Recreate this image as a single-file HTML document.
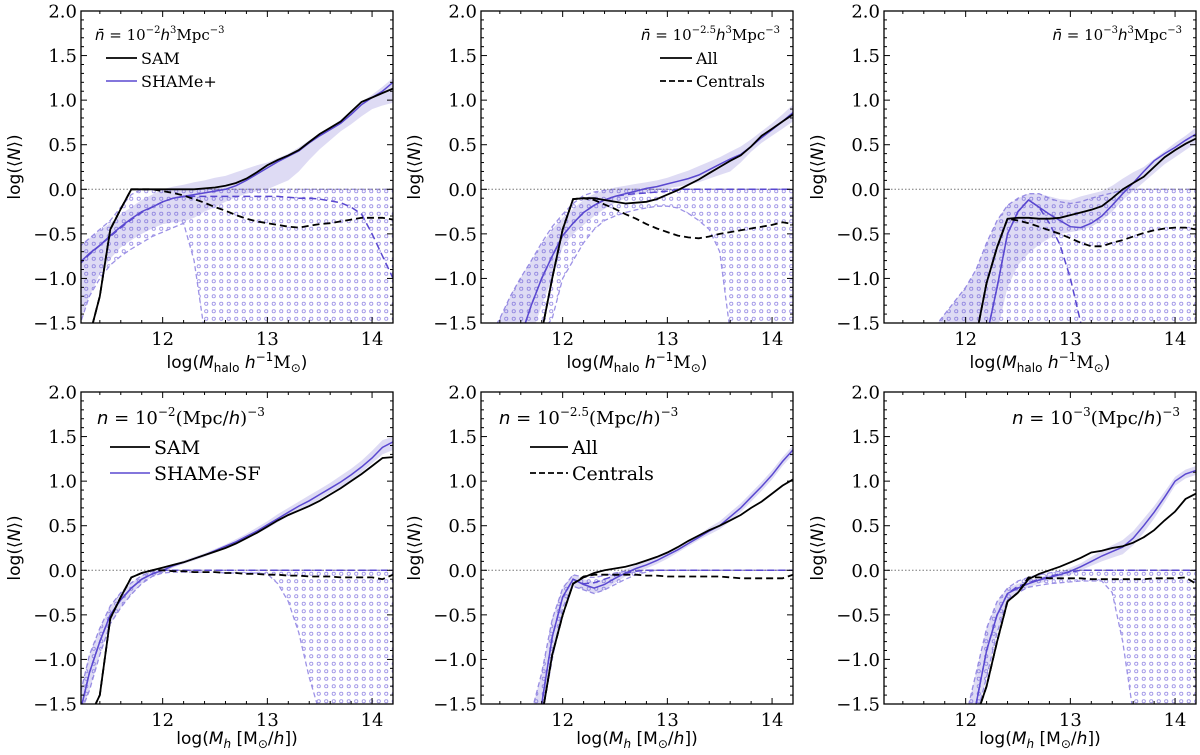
<!DOCTYPE html>
<html><head><meta charset="utf-8"><style>
html,body{margin:0;padding:0;background:#fff;width:1200px;height:755px;overflow:hidden;position:relative;}
svg{display:block;position:absolute;left:0;top:0;}
.tk{font-family:"DejaVu Serif","Liberation Serif",serif;font-size:18px;fill:#000;}
.ax{font-family:"DejaVu Sans","Liberation Sans",sans-serif;font-size:17px;fill:#000;}
.lg{font-family:"DejaVu Serif","Liberation Serif",serif;fill:#000;}
</style></head><body>
<svg id="fig" width="1200" height="755" viewBox="0 0 1200 755" xmlns="http://www.w3.org/2000/svg">
<defs>
<pattern id="dots" patternUnits="userSpaceOnUse" width="7.5" height="7.5">
<circle cx="3.75" cy="3.75" r="1.6" fill="none" stroke="#9d92e6" stroke-width="0.9"/>
</pattern>
</defs>
</svg>
<script>
const M = [11.2,11.3,11.4,11.5,11.6,11.7,11.8,11.9,12.0,12.1,12.2,12.3,12.4,12.5,12.6,12.7,12.8,12.9,13.0,13.1,13.2,13.3,13.4,13.5,13.6,13.7,13.8,13.9,14.0,14.1,14.2];
const yTicks = [-1.5,-1.0,-0.5,0.0,0.5,1.0,1.5,2.0];
const yTickLabels = ["\u22121.5","\u22121.0","\u22120.5","0.0","0.5","1.0","1.5","2.0"];
const xTicks = [12,13,14];

// Panel 1 (top-left)
const p1SamAll = [-3,-2.2,-1.2,-0.45,-0.22,0,0,0,0,0,0,0,0.01,0.02,0.04,0.07,0.12,0.19,0.27,0.33,0.38,0.44,0.53,0.62,0.69,0.76,0.87,0.98,1.03,1.08,1.13];
const p1SamCen = [-3,-2.2,-1.2,-0.45,-0.22,0,0,0,-0.02,-0.04,-0.07,-0.11,-0.15,-0.2,-0.24,-0.29,-0.33,-0.36,-0.38,-0.4,-0.42,-0.43,-0.41,-0.39,-0.38,-0.36,-0.34,-0.32,-0.32,-0.32,-0.34];
const p1ShAll = [-0.83,-0.72,-0.63,-0.52,-0.42,-0.33,-0.25,-0.2,-0.14,-0.1,-0.08,-0.06,-0.04,-0.02,0.0,0.04,0.1,0.17,0.24,0.31,0.37,0.43,0.52,0.6,0.67,0.74,0.84,0.95,1.03,1.1,1.2];
const p1ShCen = [-0.85,-0.73,-0.63,-0.53,-0.43,-0.34,-0.26,-0.2,-0.14,-0.1,-0.08,-0.08,-0.08,-0.08,-0.08,-0.08,-0.08,-0.08,-0.08,-0.08,-0.09,-0.1,-0.1,-0.11,-0.13,-0.15,-0.2,-0.28,-0.5,-0.75,-1.0];
const p1BandHi = [-0.65,-0.55,-0.46,-0.38,-0.28,-0.2,-0.12,-0.06,0.0,0.03,0.05,0.08,0.1,0.13,0.15,0.19,0.23,0.27,0.3,0.35,0.4,0.47,0.55,0.62,0.7,0.78,0.88,0.98,1.06,1.15,1.25];
const p1BandLo = [-1.5,-1.2,-0.95,-0.78,-0.65,-0.57,-0.5,-0.44,-0.39,-0.37,-0.36,-0.32,-0.25,-0.2,-0.14,-0.09,-0.05,-0.02,0.0,0.05,0.1,0.2,0.33,0.45,0.55,0.65,0.73,0.82,0.9,0.94,0.97];
const p1CenHi = [-0.65,-0.55,-0.45,-0.35,-0.2,-0.06,0,0,0,0,0,0,0,0,0,0,0,0,0,0,0,0,0,0,0,0,0,0,0,0,0];
const p1CenLo = [-1.55,-1.2,-1.0,-0.85,-0.75,-0.67,-0.6,-0.53,-0.48,-0.43,-0.38,-0.8,-1.6,-1.6,-1.6,-1.6,-1.6,-1.6,-1.6,-1.6,-1.6,-1.6,-1.6,-1.6,-1.6,-1.6,-1.6,-1.6,-1.6,-1.6,-1.6];

// Panel 2 (top-middle)
const p2SamAll = [-3,-3,-3,-3,-3,-3,-1.6,-1.0,-0.45,-0.11,-0.1,-0.1,-0.12,-0.14,-0.16,-0.15,-0.14,-0.11,-0.06,-0.01,0.05,0.11,0.18,0.25,0.32,0.38,0.48,0.6,0.68,0.76,0.84];
const p2SamCen = [-3,-3,-3,-3,-3,-3,-1.6,-1.0,-0.45,-0.11,-0.1,-0.12,-0.17,-0.22,-0.28,-0.33,-0.39,-0.44,-0.48,-0.52,-0.54,-0.55,-0.53,-0.5,-0.48,-0.46,-0.44,-0.42,-0.4,-0.37,-0.39];
const p2ShAll = [-3,-3,-3,-3,-1.9,-1.3,-1.0,-0.75,-0.52,-0.38,-0.26,-0.18,-0.12,-0.08,-0.05,-0.02,0.01,0.03,0.06,0.09,0.12,0.16,0.22,0.28,0.34,0.39,0.48,0.58,0.67,0.76,0.86];
const p2ShCen = [-3,-3,-3,-3,-1.9,-1.3,-1.0,-0.75,-0.52,-0.38,-0.26,-0.18,-0.12,-0.08,-0.06,-0.05,-0.04,-0.03,-0.02,0,0,0,0,0,0,0,0,0,0,0,0];
const p2BandHi = [-2,-1.75,-1.45,-1.2,-0.99,-0.8,-0.62,-0.45,-0.32,-0.22,-0.12,-0.05,-0.01,0.02,0.04,0.06,0.08,0.1,0.13,0.17,0.21,0.26,0.31,0.36,0.42,0.48,0.56,0.65,0.74,0.84,0.95];
const p2BandLo = [-3,-3,-3,-3,-3,-1.7,-1.3,-1.0,-0.65,-0.5,-0.4,-0.3,-0.22,-0.15,-0.1,-0.06,-0.03,-0.01,0.01,0.03,0.05,0.08,0.12,0.16,0.2,0.3,0.42,0.52,0.6,0.68,0.76];
const p2CenHi = [-2,-1.75,-1.45,-1.2,-0.99,-0.8,-0.6,-0.42,-0.28,-0.16,-0.07,-0.03,-0.01,0,0,0,0,0,0,0,0,0,0,0,0,0,0,0,0,0,0];
const p2CenLo = [-1.6,-1.6,-1.6,-1.6,-1.6,-1.6,-1.6,-1.45,-1.0,-0.8,-0.6,-0.45,-0.35,-0.3,-0.26,-0.23,-0.21,-0.19,-0.19,-0.21,-0.27,-0.35,-0.45,-0.7,-1.6,-1.6,-1.6,-1.6,-1.6,-1.6,-1.6];

// Panel 3 (top-right)
const p3SamAll = [-3,-3,-3,-3,-3,-3,-3,-3,-3,-2.0,-1.05,-0.65,-0.33,-0.32,-0.32,-0.33,-0.33,-0.32,-0.29,-0.26,-0.23,-0.19,-0.1,0.0,0.07,0.14,0.25,0.36,0.44,0.51,0.57];
const p3SamCen = [-3,-3,-3,-3,-3,-3,-3,-3,-3,-2.0,-1.05,-0.65,-0.33,-0.35,-0.38,-0.42,-0.46,-0.5,-0.55,-0.6,-0.64,-0.64,-0.6,-0.57,-0.53,-0.49,-0.46,-0.44,-0.43,-0.43,-0.45];
const p3ShAll = [-3,-3,-3,-3,-3,-3,-3,-3,-3,-3,-1.9,-1.1,-0.5,-0.25,-0.12,-0.2,-0.28,-0.35,-0.42,-0.43,-0.38,-0.3,-0.18,-0.05,0.07,0.2,0.32,0.4,0.47,0.55,0.62];
const p3ShCen = [-3,-3,-3,-3,-3,-3,-3,-3,-3,-3,-1.9,-1.1,-0.5,-0.25,-0.12,-0.2,-0.38,-0.62,-1.0,-1.5,-2.2,-3,-3,-3,-3,-3,-3,-3,-3,-3,-3];
const p3BandHi = [-3,-3,-3,-3,-1.7,-1.55,-1.4,-1.25,-1.1,-0.9,-0.6,-0.35,-0.18,-0.1,-0.05,-0.05,-0.08,-0.11,-0.12,-0.08,-0.05,-0.02,0.04,0.12,0.19,0.25,0.34,0.43,0.52,0.6,0.69];
const p3BandLo = [-1.7,-1.7,-1.7,-1.7,-1.7,-1.6,-1.6,-1.6,-1.6,-1.6,-1.6,-1.6,-1.1,-0.85,-0.72,-0.62,-0.55,-0.5,-0.48,-0.46,-0.42,-0.35,-0.25,-0.12,-0.02,0.08,0.18,0.28,0.36,0.44,0.52];
const p3CenHi = [-1.7,-1.7,-1.7,-1.7,-1.7,-1.55,-1.4,-1.25,-1.1,-0.9,-0.6,-0.35,-0.18,-0.1,-0.05,-0.05,-0.1,-0.14,-0.16,-0.14,-0.1,-0.07,-0.04,-0.01,0,0,0,0,0,0,0];
const p3CenLo = [-1.7,-1.7,-1.7,-1.7,-1.7,-1.7,-1.7,-1.7,-1.7,-1.7,-1.7,-1.7,-1.7,-1.7,-1.7,-1.7,-1.7,-1.7,-1.7,-1.7,-1.7,-1.7,-1.7,-1.7,-1.7,-1.7,-1.7,-1.7,-1.7,-1.7,-1.7];

// Panel 4 (bottom-left)
const p4SamAll = [-3,-2.3,-1.4,-0.54,-0.3,-0.08,-0.03,0.0,0.03,0.06,0.09,0.13,0.17,0.21,0.25,0.3,0.36,0.42,0.49,0.56,0.62,0.67,0.72,0.78,0.85,0.92,1.0,1.08,1.17,1.26,1.27];
const p4SamCen = [-3,-2.3,-1.4,-0.54,-0.3,-0.08,-0.03,0.0,0.0,-0.01,-0.01,-0.02,-0.02,-0.02,-0.03,-0.03,-0.04,-0.04,-0.05,-0.05,-0.06,-0.06,-0.07,-0.07,-0.07,-0.08,-0.08,-0.08,-0.08,-0.1,-0.05];
const p4ShAll = [-1.7,-1.15,-0.8,-0.5,-0.33,-0.2,-0.1,-0.04,0.0,0.05,0.09,0.13,0.17,0.22,0.27,0.32,0.38,0.44,0.51,0.58,0.65,0.72,0.78,0.85,0.92,0.99,1.07,1.16,1.26,1.38,1.44];
const p4ShCen = [-1.7,-1.15,-0.8,-0.5,-0.33,-0.2,-0.1,-0.04,0,0,0,0,0,0,0,0,0,0,0,0,0,0,0,0,0,0,0,0,0,0,0];
const p4BandHi = [-1.45,-0.95,-0.65,-0.4,-0.25,-0.14,-0.06,-0.01,0.03,0.07,0.11,0.15,0.19,0.24,0.29,0.35,0.41,0.48,0.55,0.63,0.7,0.77,0.84,0.91,0.98,1.06,1.14,1.23,1.34,1.46,1.5];
const p4BandLo = [-1.95,-1.35,-0.95,-0.6,-0.42,-0.27,-0.15,-0.07,-0.03,0.03,0.07,0.11,0.15,0.2,0.25,0.29,0.35,0.41,0.47,0.54,0.61,0.67,0.73,0.8,0.87,0.93,1.01,1.1,1.2,1.3,1.35];
const p4CenHi = [-1.45,-0.95,-0.65,-0.4,-0.25,-0.14,-0.06,-0.01,0,0,0,0,0,0,0,0,0,0,0,0,0,0,0,0,0,0,0,0,0,0,0];
const p4CenLo = [-1.95,-1.35,-0.95,-0.6,-0.42,-0.27,-0.15,-0.07,-0.03,-0.02,-0.02,-0.02,-0.02,-0.02,-0.03,-0.03,-0.03,-0.03,-0.04,-0.15,-0.35,-0.7,-1.2,-1.6,-1.6,-1.6,-1.6,-1.6,-1.6,-1.6,-1.6];

// Panel 5 (bottom-middle)
const p5SamAll = [-3,-3,-3,-3,-3,-3,-1.75,-0.95,-0.5,-0.15,-0.08,-0.03,0.0,0.02,0.04,0.07,0.11,0.15,0.2,0.26,0.33,0.39,0.45,0.5,0.56,0.62,0.7,0.77,0.86,0.95,1.02];
const p5SamCen = [-3,-3,-3,-3,-3,-3,-1.75,-0.95,-0.5,-0.15,-0.07,-0.05,-0.05,-0.05,-0.05,-0.05,-0.06,-0.06,-0.07,-0.07,-0.07,-0.07,-0.07,-0.07,-0.08,-0.09,-0.09,-0.09,-0.09,-0.09,-0.05];
const p5ShAll = [-3,-3,-3,-3,-3,-2.3,-1.5,-0.75,-0.3,-0.1,-0.16,-0.2,-0.16,-0.09,-0.03,0.02,0.06,0.11,0.17,0.23,0.3,0.37,0.44,0.5,0.6,0.7,0.82,0.94,1.07,1.22,1.35];
const p5ShCen = [-3,-3,-3,-3,-3,-2.3,-1.5,-0.75,-0.3,-0.1,-0.15,-0.14,-0.1,-0.06,-0.03,-0.01,0,0,0,0,0,0,0,0,0,0,0,0,0,0,0];
const p5BandHi = [-3,-3,-3,-3,-2.0,-1.6,-1.15,-0.55,-0.2,-0.05,-0.1,-0.13,-0.1,-0.04,0.01,0.06,0.1,0.15,0.2,0.26,0.33,0.4,0.48,0.55,0.65,0.75,0.87,0.99,1.12,1.27,1.4];
const p5BandLo = [-3,-3,-3,-3,-3,-3,-1.8,-1.0,-0.42,-0.18,-0.22,-0.26,-0.22,-0.14,-0.07,-0.02,0.02,0.07,0.13,0.2,0.27,0.34,0.4,0.46,0.55,0.65,0.77,0.89,1.02,1.17,1.3];
const p5CenHi = [-3,-3,-3,-3,-2.0,-1.6,-1.15,-0.55,-0.2,-0.05,-0.08,-0.08,-0.06,-0.03,-0.01,0,0,0,0,0,0,0,0,0,0,0,0,0,0,0,0];
const p5CenLo = [-3,-3,-3,-3,-3,-3,-1.8,-1.0,-0.42,-0.18,-0.22,-0.26,-0.22,-0.16,-0.1,-0.05,-0.02,0,0,0,0,0,0,0,0,0,0,0,0,0,0];

// Panel 6 (bottom-right)
const p6SamAll = [-3,-3,-3,-3,-3,-3,-3,-3,-3,-2.0,-1.3,-0.8,-0.35,-0.25,-0.1,-0.04,0.0,0.04,0.09,0.14,0.2,0.22,0.25,0.27,0.31,0.37,0.45,0.56,0.66,0.8,0.86];
const p6SamCen = [-3,-3,-3,-3,-3,-3,-3,-3,-3,-2.0,-1.3,-0.8,-0.35,-0.25,-0.08,-0.08,-0.09,-0.09,-0.09,-0.09,-0.1,-0.1,-0.1,-0.1,-0.1,-0.1,-0.09,-0.09,-0.09,-0.08,-0.15];
const p6ShAll = [-3,-3,-3,-3,-3,-3,-3,-3,-2.3,-1.5,-0.9,-0.5,-0.26,-0.2,-0.15,-0.11,-0.08,-0.05,-0.01,0.04,0.1,0.16,0.21,0.26,0.36,0.5,0.65,0.82,1.0,1.08,1.12];
const p6ShCen = [-3,-3,-3,-3,-3,-3,-3,-3,-2.3,-1.5,-0.9,-0.5,-0.26,-0.18,-0.14,-0.1,-0.07,-0.04,-0.02,0,0,0,0,0,0,0,0,0,0,0,0];
const p6BandHi = [-3,-3,-3,-3,-3,-3,-3,-3,-1.9,-1.15,-0.65,-0.35,-0.2,-0.15,-0.11,-0.08,-0.05,-0.02,0.03,0.08,0.15,0.22,0.28,0.34,0.44,0.58,0.72,0.88,1.05,1.13,1.17];
const p6BandLo = [-3,-3,-3,-3,-3,-3,-3,-3,-3,-1.9,-1.2,-0.7,-0.33,-0.25,-0.19,-0.15,-0.11,-0.08,-0.05,0.0,0.05,0.1,0.14,0.18,0.28,0.42,0.58,0.76,0.95,1.03,1.07];
const p6CenHi = [-3,-3,-3,-3,-3,-3,-3,-3,-1.9,-1.15,-0.65,-0.35,-0.2,-0.12,-0.08,-0.05,-0.03,-0.01,0,0,0,0,0,0,0,0,0,0,0,0,0];
const p6CenLo = [-3,-3,-3,-3,-3,-3,-3,-3,-3,-1.9,-1.2,-0.7,-0.33,-0.25,-0.19,-0.17,-0.15,-0.14,-0.13,-0.12,-0.12,-0.12,-0.25,-0.8,-1.6,-1.6,-1.6,-1.6,-1.6,-1.6,-1.6];

const NS = "http://www.w3.org/2000/svg";
const svg = document.getElementById('fig');
const XMIN = 11.22, XMAX = 14.2, YMIN = -1.5, YMAX = 2.0, W = 312, H = 312;
const BLUE = "#5a48d0", LIGHT = "#9d92e6";

function mk(tag, attrs, parent){
  const e = document.createElementNS(NS, tag);
  for (const k in attrs) e.setAttribute(k, attrs[k]);
  (parent || svg).appendChild(e);
  return e;
}
function pathD(xs, ys, sx, sy){
  return xs.map((x,i)=>(i?'L':'M')+sx(x).toFixed(1)+','+sy(ys[i]).toFixed(1)).join(' ');
}
function bandD(xs, hi, lo, sx, sy){
  let d = xs.map((x,i)=>(i?'L':'M')+sx(x).toFixed(1)+','+sy(hi[i]).toFixed(1)).join(' ');
  for (let i = xs.length-1; i >= 0; i--) d += ' L'+sx(xs[i]).toFixed(1)+','+sy(lo[i]).toFixed(1);
  return d + ' Z';
}

function drawPanel(idx, left, top, d){
  const sx = v => left + (v - XMIN) / (XMAX - XMIN) * W;
  const sy = v => top + (YMAX - Math.max(v, -1.65)) / (YMAX - YMIN) * H;
  const g = mk('g', {});
  
  
  const cp = mk('clipPath', {id: 'clip' + idx}, g);
  mk('rect', {x: left, y: top, width: W, height: H}, cp);
  const pg = mk('g', {'clip-path': 'url(#clip' + idx + ')'}, g);

  const cb = mk('path', {d: bandD(M, d.cenHi, d.cenLo, sx, sy), fill: 'url(#dots)', stroke: 'none'}, pg);
  
  
  const ce1 = mk('path', {d: pathD(M, d.cenHi, sx, sy), fill: 'none', stroke: LIGHT, 'stroke-width': 1.3, 'stroke-dasharray': '5,3'}, pg);
  
  
  const ce2 = mk('path', {d: pathD(M, d.cenLo, sx, sy), fill: 'none', stroke: LIGHT, 'stroke-width': 1.3, 'stroke-dasharray': '5,3'}, pg);
  
  
  const ab = mk('path', {d: bandD(M, d.bandHi, d.bandLo, sx, sy), fill: '#6a5acd', 'fill-opacity': 0.22, stroke: 'none'}, pg);
  
  

  const zl = mk('line', {x1: left, x2: left + W, y1: sy(0), y2: sy(0), stroke: '#777', 'stroke-width': 1, 'stroke-dasharray': '1.5,2'}, pg);
  
  

  const l1 = mk('path', {d: pathD(M, d.shCen, sx, sy), fill: 'none', stroke: BLUE, 'stroke-width': 1.5, 'stroke-dasharray': '7,4'}, pg);
  
  
  const l2 = mk('path', {d: pathD(M, d.shAll, sx, sy), fill: 'none', stroke: BLUE, 'stroke-width': 1.5}, pg);
  
  
  const l3 = mk('path', {d: pathD(M, d.samCen, sx, sy), fill: 'none', stroke: '#000', 'stroke-width': 1.8, 'stroke-dasharray': '7,4'}, pg);
  
  
  const l4 = mk('path', {d: pathD(M, d.samAll, sx, sy), fill: 'none', stroke: '#000', 'stroke-width': 1.8}, pg);
  
  

  const fr = mk('rect', {x: left, y: top, width: W, height: H, fill: 'none', stroke: '#000', 'stroke-width': 1.3}, g);
  
  
  for (let v = -15; v <= 20; v++) {
    const y = sy(v / 10);
    const major = (v % 5 === 0);
    const len = major ? 6 : 3;
    mk('line', {x1: left, x2: left + len, y1: y, y2: y, stroke: '#000', 'stroke-width': 1}, g);
    mk('line', {x1: left + W, x2: left + W - len, y1: y, y2: y, stroke: '#000', 'stroke-width': 1}, g);
  }
  yTicks.forEach((v, i) => {
    const t = mk('text', {x: left - 4, y: sy(v) + 6.5, 'text-anchor': 'end', class: 'tk'}, g);
    t.textContent = yTickLabels[i];
    
    
  });
  for (let v = 114; v <= 142; v += 2) {
    const x = sx(v / 10);
    const major = (v % 10 === 0);
    const len = major ? 6 : 3;
    mk('line', {x1: x, x2: x, y1: top + H, y2: top + H - len, stroke: '#000', 'stroke-width': 1}, g);
    mk('line', {x1: x, x2: x, y1: top, y2: top + len, stroke: '#000', 'stroke-width': 1}, g);
  }
  xTicks.forEach(v => {
    const t = mk('text', {x: sx(v), y: top + H + 22, 'text-anchor': 'middle', class: 'tk'}, g);
    t.textContent = String(v);
    
    
  });
  return g;
}

const lefts = [81, 481, 884], tops = [11, 392];
const panels = [
  {samAll:p1SamAll,samCen:p1SamCen,shAll:p1ShAll,shCen:p1ShCen,bandHi:p1BandHi,bandLo:p1BandLo,cenHi:p1CenHi,cenLo:p1CenLo},
  {samAll:p2SamAll,samCen:p2SamCen,shAll:p2ShAll,shCen:p2ShCen,bandHi:p2BandHi,bandLo:p2BandLo,cenHi:p2CenHi,cenLo:p2CenLo},
  {samAll:p3SamAll,samCen:p3SamCen,shAll:p3ShAll,shCen:p3ShCen,bandHi:p3BandHi,bandLo:p3BandLo,cenHi:p3CenHi,cenLo:p3CenLo},
  {samAll:p4SamAll,samCen:p4SamCen,shAll:p4ShAll,shCen:p4ShCen,bandHi:p4BandHi,bandLo:p4BandLo,cenHi:p4CenHi,cenLo:p4CenLo},
  {samAll:p5SamAll,samCen:p5SamCen,shAll:p5ShAll,shCen:p5ShCen,bandHi:p5BandHi,bandLo:p5BandLo,cenHi:p5CenHi,cenLo:p5CenLo},
  {samAll:p6SamAll,samCen:p6SamCen,shAll:p6ShAll,shCen:p6ShCen,bandHi:p6BandHi,bandLo:p6BandLo,cenHi:p6CenHi,cenLo:p6CenLo}
];
panels.forEach((d, i) => drawPanel(i + 1, lefts[i % 3], tops[Math.floor(i / 3)], d));
</script>
<svg width="1200" height="755" viewBox="0 0 1200 755" style="pointer-events:none" xmlns="http://www.w3.org/2000/svg">
<text class="ax" transform="translate(20,167) rotate(-90)" text-anchor="middle">log(⟨<tspan font-style="italic">N</tspan>⟩)</text>
<text class="ax" transform="translate(420,167) rotate(-90)" text-anchor="middle">log(⟨<tspan font-style="italic">N</tspan>⟩)</text>
<text class="ax" transform="translate(823,167) rotate(-90)" text-anchor="middle">log(⟨<tspan font-style="italic">N</tspan>⟩)</text>
<text class="ax" transform="translate(20,548) rotate(-90)" text-anchor="middle">log(⟨<tspan font-style="italic">N</tspan>⟩)</text>
<text class="ax" transform="translate(420,548) rotate(-90)" text-anchor="middle">log(⟨<tspan font-style="italic">N</tspan>⟩)</text>
<text class="ax" transform="translate(823,548) rotate(-90)" text-anchor="middle">log(⟨<tspan font-style="italic">N</tspan>⟩)</text>
<text class="ax" x="237" y="368" text-anchor="middle">log(<tspan font-style="italic">M</tspan><tspan font-size="12" dy="4">halo</tspan><tspan dy="-4"> </tspan><tspan font-style="italic">h</tspan><tspan font-size="12" dy="-7">−1</tspan><tspan dy="7" font-family="DejaVu Serif">M</tspan><tspan font-size="12" dy="4">⊙</tspan><tspan dy="-4">)</tspan></text>
<text class="ax" x="637" y="368" text-anchor="middle">log(<tspan font-style="italic">M</tspan><tspan font-size="12" dy="4">halo</tspan><tspan dy="-4"> </tspan><tspan font-style="italic">h</tspan><tspan font-size="12" dy="-7">−1</tspan><tspan dy="7" font-family="DejaVu Serif">M</tspan><tspan font-size="12" dy="4">⊙</tspan><tspan dy="-4">)</tspan></text>
<text class="ax" x="1040" y="368" text-anchor="middle">log(<tspan font-style="italic">M</tspan><tspan font-size="12" dy="4">halo</tspan><tspan dy="-4"> </tspan><tspan font-style="italic">h</tspan><tspan font-size="12" dy="-7">−1</tspan><tspan dy="7" font-family="DejaVu Serif">M</tspan><tspan font-size="12" dy="4">⊙</tspan><tspan dy="-4">)</tspan></text>
<text class="ax" x="237" y="744" text-anchor="middle">log(<tspan font-style="italic">M</tspan><tspan font-size="12" dy="4" font-style="italic">h</tspan><tspan dy="-4"> [M</tspan><tspan font-size="12" dy="4">⊙</tspan><tspan dy="-4">/</tspan><tspan font-style="italic">h</tspan>])</text>
<text class="ax" x="637" y="744" text-anchor="middle">log(<tspan font-style="italic">M</tspan><tspan font-size="12" dy="4" font-style="italic">h</tspan><tspan dy="-4"> [M</tspan><tspan font-size="12" dy="4">⊙</tspan><tspan dy="-4">/</tspan><tspan font-style="italic">h</tspan>])</text>
<text class="ax" x="1040" y="744" text-anchor="middle">log(<tspan font-style="italic">M</tspan><tspan font-size="12" dy="4" font-style="italic">h</tspan><tspan dy="-4"> [M</tspan><tspan font-size="12" dy="4">⊙</tspan><tspan dy="-4">/</tspan><tspan font-style="italic">h</tspan>])</text>

<text class="lg" x="95" y="40" font-size="15"><tspan font-style="italic" font-family="DejaVu Sans">n̄</tspan> = 10<tspan font-size="10" dy="-7">−2</tspan><tspan dy="7" font-style="italic" font-family="DejaVu Sans">h</tspan><tspan font-size="10" dy="-7">3</tspan><tspan dy="7">Mpc</tspan><tspan font-size="10" dy="-7">−3</tspan></text>
<g>
<line x1="106" x2="137" y1="58" y2="58" stroke="#000" stroke-width="1.8"/>
<text class="lg" x="141" y="64" font-size="16">SAM</text>
<line x1="106" x2="137" y1="81" y2="81" stroke="#5a48d0" stroke-width="1.5"/>
<text class="lg" x="141" y="87" font-size="16">SHAMe+</text>
</g>
<text class="lg" x="780" y="40" font-size="15" text-anchor="end"><tspan font-style="italic" font-family="DejaVu Sans">n̄</tspan> = 10<tspan font-size="10" dy="-7">−2.5</tspan><tspan dy="7" font-style="italic" font-family="DejaVu Sans">h</tspan><tspan font-size="10" dy="-7">3</tspan><tspan dy="7">Mpc</tspan><tspan font-size="10" dy="-7">−3</tspan></text>
<g>
<line x1="660" x2="692" y1="58" y2="58" stroke="#000" stroke-width="1.8"/>
<text class="lg" x="696" y="64" font-size="16">All</text>
<line x1="660" x2="692" y1="81" y2="81" stroke="#000" stroke-width="1.8" stroke-dasharray="6,3"/>
<text class="lg" x="696" y="87" font-size="16">Centrals</text>
</g>
<text class="lg" x="1182" y="40" font-size="15" text-anchor="end"><tspan font-style="italic" font-family="DejaVu Sans">n̄</tspan> = 10<tspan font-size="10" dy="-7">−3</tspan><tspan dy="7" font-style="italic" font-family="DejaVu Sans">h</tspan><tspan font-size="10" dy="-7">3</tspan><tspan dy="7">Mpc</tspan><tspan font-size="10" dy="-7">−3</tspan></text>
<text class="lg" x="97" y="424" font-size="18"><tspan font-style="italic" font-family="DejaVu Sans">n</tspan> = 10<tspan font-size="12" dy="-8">−2</tspan><tspan dy="8">(Mpc/</tspan><tspan font-style="italic" font-family="DejaVu Sans">h</tspan>)<tspan font-size="12" dy="-8">−3</tspan></text>
<g>
<line x1="110" x2="150" y1="447" y2="447" stroke="#000" stroke-width="1.8"/>
<text class="lg" x="154" y="454" font-size="19">SAM</text>
<line x1="110" x2="150" y1="473" y2="473" stroke="#5a48d0" stroke-width="1.5"/>
<text class="lg" x="154" y="480" font-size="19">SHAMe-SF</text>
</g>
<text class="lg" x="499" y="424" font-size="18"><tspan font-style="italic" font-family="DejaVu Sans">n</tspan> = 10<tspan font-size="12" dy="-8">−2.5</tspan><tspan dy="8">(Mpc/</tspan><tspan font-style="italic" font-family="DejaVu Sans">h</tspan>)<tspan font-size="12" dy="-8">−3</tspan></text>
<g>
<line x1="530" x2="568" y1="447" y2="447" stroke="#000" stroke-width="1.8"/>
<text class="lg" x="572" y="454" font-size="19">All</text>
<line x1="530" x2="568" y1="473" y2="473" stroke="#000" stroke-width="1.8" stroke-dasharray="6,3"/>
<text class="lg" x="572" y="480" font-size="19">Centrals</text>
</g>
<text class="lg" x="1180" y="424" font-size="18" text-anchor="end"><tspan font-style="italic" font-family="DejaVu Sans">n</tspan> = 10<tspan font-size="12" dy="-8">−3</tspan><tspan dy="8">(Mpc/</tspan><tspan font-style="italic" font-family="DejaVu Sans">h</tspan>)<tspan font-size="12" dy="-8">−3</tspan></text>
</svg>
</body></html>
